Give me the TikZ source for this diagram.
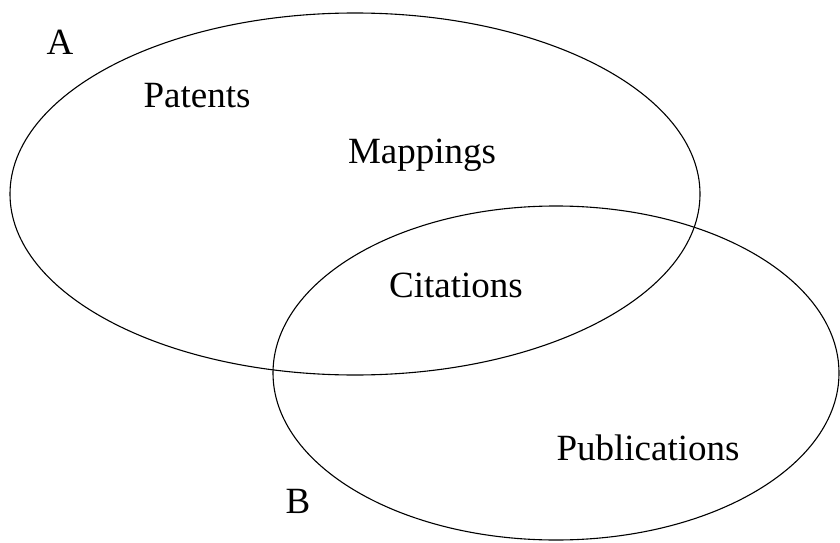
\documentclass[tikz,border=0pt]{standalone}
\usepackage{fontspec}
\setmainfont{Liberation Serif}
\begin{document}
\begin{tikzpicture}[x=1pt,y=1pt]
  \tikzstyle{every node}=[anchor=base,inner sep=0pt,font=\fontsize{37}{44}\selectfont]
  \tikzstyle{set}=[line width=1.1pt]
  \useasboundingbox (0,0) rectangle (840,542);
  \draw [set] (355,348) ellipse [x radius=345, y radius=181];
  \draw [set] (556,169) ellipse [x radius=283, y radius=167];
  \node (a)    at (60,487)  {A};
  \node (b)    at (298,29)  {B};
  \node (pat)  at (197,434) {Patents};
  \node (map)  at (422,379) {Mappings};
  \node (cit)  at (456,245) {Citations};
  \node (pub)  at (648,82)  {Publications};
\end{tikzpicture}
\end{document}
